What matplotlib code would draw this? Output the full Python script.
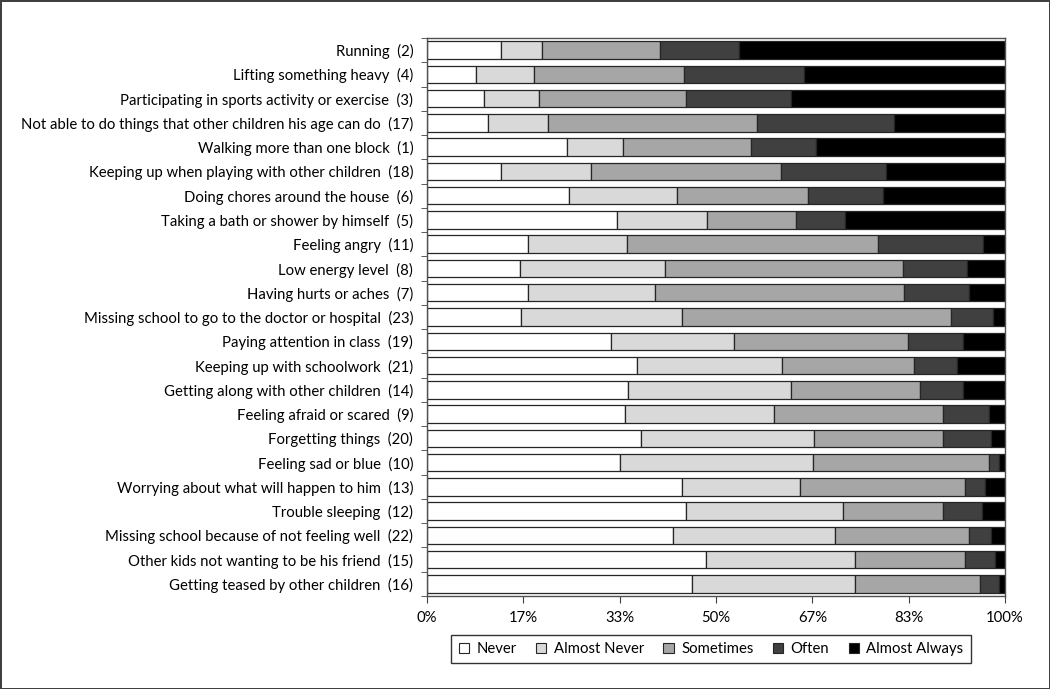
import numpy as np
import matplotlib.pyplot as plt
from matplotlib.patches import Patch

plt.rcParams['font.family'] = ['Lato', 'DejaVu Sans']

# categories, top to bottom
labels = [
    'Running  (2)',
    'Lifting something heavy  (4)',
    'Participating in sports activity or exercise  (3)',
    'Not able to do things that other children his age can do  (17)',
    'Walking more than one block  (1)',
    'Keeping up when playing with other children  (18)',
    'Doing chores around the house  (6)',
    'Taking a bath or shower by himself  (5)',
    'Feeling angry  (11)',
    'Low energy level  (8)',
    'Having hurts or aches  (7)',
    'Missing school to go to the doctor or hospital  (23)',
    'Paying attention in class  (19)',
    'Keeping up with schoolwork  (21)',
    'Getting along with other children  (14)',
    'Feeling afraid or scared  (9)',
    'Forgetting things  (20)',
    'Feeling sad or blue  (10)',
    'Worrying about what will happen to him  (13)',
    'Trouble sleeping  (12)',
    'Missing school because of not feeling well  (22)',
    'Other kids not wanting to be his friend  (15)',
    'Getting teased by other children  (16)',
]

# cumulative shares (%): end of Never, Almost Never, Sometimes, Often
cum_never = [12.8, 8.4, 9.9, 10.5, 24.3, 12.8, 24.5, 32.8, 17.5, 16.0, 17.5, 16.3,
             31.8, 36.3, 34.8, 34.3, 37.1, 33.3, 44.1, 44.8, 42.5, 48.2, 45.8]
cum_almost_never = [19.9, 18.5, 19.4, 20.9, 33.9, 28.3, 43.2, 48.5, 34.6, 41.2, 39.4, 44.1,
                    53.1, 61.4, 62.9, 60.0, 67.0, 66.8, 64.6, 72.0, 70.5, 74.0, 74.0]
cum_sometimes = [40.3, 44.5, 44.8, 57.1, 56.1, 61.3, 65.9, 63.9, 78.0, 82.3, 82.6, 90.6,
                 83.2, 84.2, 85.3, 89.2, 89.2, 97.2, 93.1, 89.2, 93.8, 93.1, 95.6]
cum_often = [54.0, 65.2, 63.0, 80.7, 67.3, 79.4, 78.9, 72.3, 96.1, 93.5, 93.7, 98.0,
             92.7, 91.6, 92.7, 97.2, 97.6, 98.9, 96.6, 96.0, 97.6, 98.2, 98.9]

series = ['Never', 'Almost Never', 'Sometimes', 'Often', 'Almost Always']
colors = ['#ffffff', '#d9d9d9', '#a6a6a6', '#404040', '#000000']

cum = np.array([np.zeros(len(labels)), cum_never, cum_almost_never,
                cum_sometimes, cum_often, np.full(len(labels), 100.0)]) / 100.0

fig = plt.figure(figsize=(10.5, 6.89), dpi=100)
fig.patch.set_edgecolor('#404040')
fig.patch.set_linewidth(2)

ax = fig.add_axes([0.4067, 0.135, 0.5505, 0.8098])
y = np.arange(len(labels))
for k in range(5):
    ax.barh(y, cum[k + 1] - cum[k], left=cum[k], height=0.72,
            color=colors[k], edgecolor='#262626', linewidth=0.9, label=series[k])

ax.set_xlim(0, 1)
ax.set_ylim(len(labels) - 0.5, -0.5)
ax.set_xticks(np.arange(7) / 6)
ax.set_xticklabels(['0%', '17%', '33%', '50%', '67%', '83%', '100%'], fontsize=10.7)
ax.set_yticks(y)
ax.set_yticklabels(labels, fontsize=10.7)
ax.tick_params(axis='y', length=0, pad=10)
ax.tick_params(axis='x', length=5, direction='out', color='#404040', pad=6)
# y tick marks between categories
ax.set_yticks(np.arange(len(labels) + 1) - 0.5, minor=True)
ax.tick_params(axis='y', which='minor', length=4, color='#404040')
for s in ax.spines.values():
    s.set_color('#505050')
    s.set_linewidth(1.0)

handles = [Patch(facecolor=c, edgecolor='#262626', linewidth=0.8) for c in colors]
fig.legend(handles, series, loc='center', bbox_to_anchor=(711 / 1050, 0.058), ncol=5,
           fontsize=10.7, frameon=True, fancybox=False, edgecolor='black',
           handlelength=0.7, handleheight=0.7, handletextpad=0.5, columnspacing=1.3,
           borderpad=0.5)

fig.savefig('out.png', dpi=100)
